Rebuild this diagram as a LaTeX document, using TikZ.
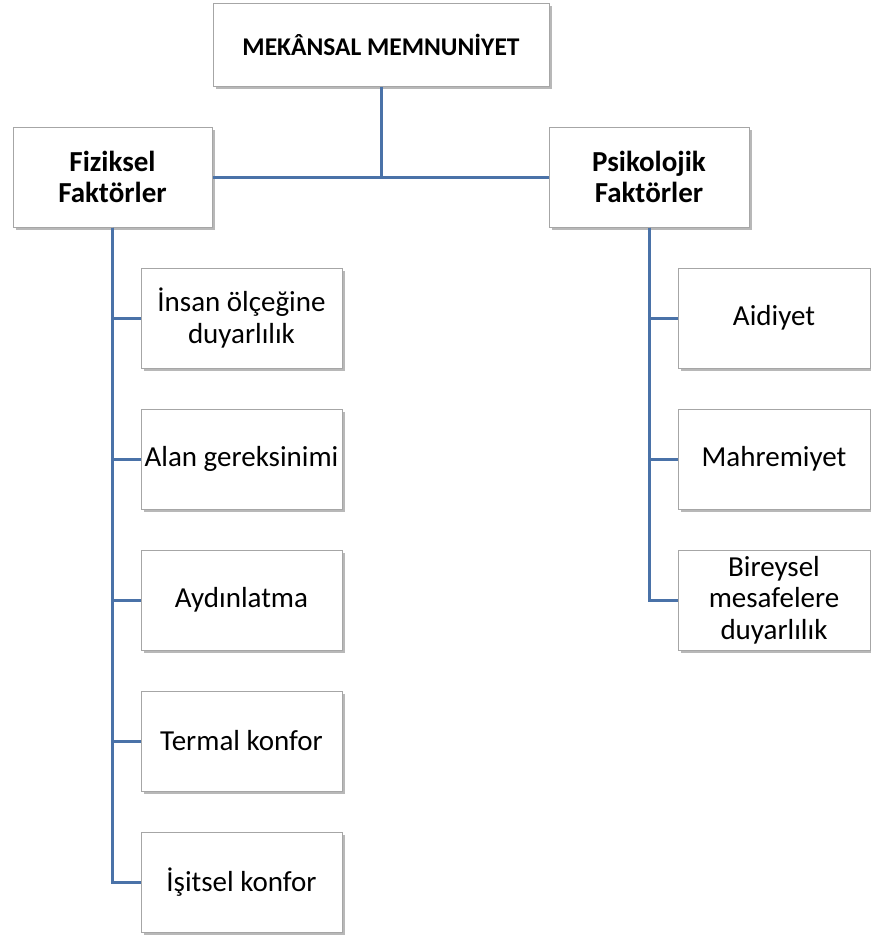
\documentclass[tikz,border=0pt]{standalone}
\usepackage{fontspec}
\setmainfont{Carlito}
\usetikzlibrary{shadows}
\definecolor{linkblue}{HTML}{4A72A8}
\definecolor{boxedge}{HTML}{A6A6A6}
\begin{document}
\begin{tikzpicture}[x=1pt,y=-1pt,
  box/.style={draw=boxedge, fill=white, line width=1pt, align=center,
    inner sep=0pt, font=\fontsize{29}{31.5}\selectfont,
    drop shadow={shadow xshift=2.5pt, shadow yshift=-2.5pt, opacity=0.5, fill=black!55}},
  head/.style={box, font=\fontsize{29}{31.5}\selectfont\bfseries},
  leftkid/.style={box, minimum width=201pt, minimum height=100pt},
  rightkid/.style={box, minimum width=192pt, minimum height=100pt},
  link/.style={draw=linkblue, line width=3pt}]
\useasboundingbox[fill=white] (0,0) rectangle (871,938);

% top level and the two factor groups
\node[head, minimum width=336pt, minimum height=83pt, font=\fontsize{25.5}{30}\selectfont\bfseries] (top) at (381,44.5) {MEKÂNSAL MEMNUNİYET};
\node[head, minimum width=199pt, minimum height=100pt] (fiz) at (112.5,177) {Fiziksel\\Faktörler};
\node[head, minimum width=200pt, minimum height=100pt] (psi) at (649,177) {Psikolojik\\Faktörler};

% physical factors
\node[leftkid] (f1) at (241.5,318) {İnsan ölçeğine\\duyarlılık};
\node[leftkid] (f2) at (241.5,459) {Alan gereksinimi};
\node[leftkid] (f3) at (241.5,600) {Aydınlatma};
\node[leftkid] (f4) at (241.5,741) {Termal konfor};
\node[leftkid] (f5) at (241.5,882) {İşitsel konfor};

% psychological factors
\node[rightkid] (p1) at (774,318) {Aidiyet};
\node[rightkid] (p2) at (774,459) {Mahremiyet};
\node[rightkid] (p3) at (774,600) {Bireysel\\mesafelere\\duyarlılık};

% connectors
\draw[link] (top.south) -- (top.south |- fiz.east);
\draw[link] (fiz.east) -- (psi.west);
\foreach \k in {f1,f2,f3,f4,f5} \draw[link] (fiz.south) |- (\k.west);
\foreach \k in {p1,p2,p3} \draw[link] (psi.south) |- (\k.west);
\end{tikzpicture}
\end{document}
